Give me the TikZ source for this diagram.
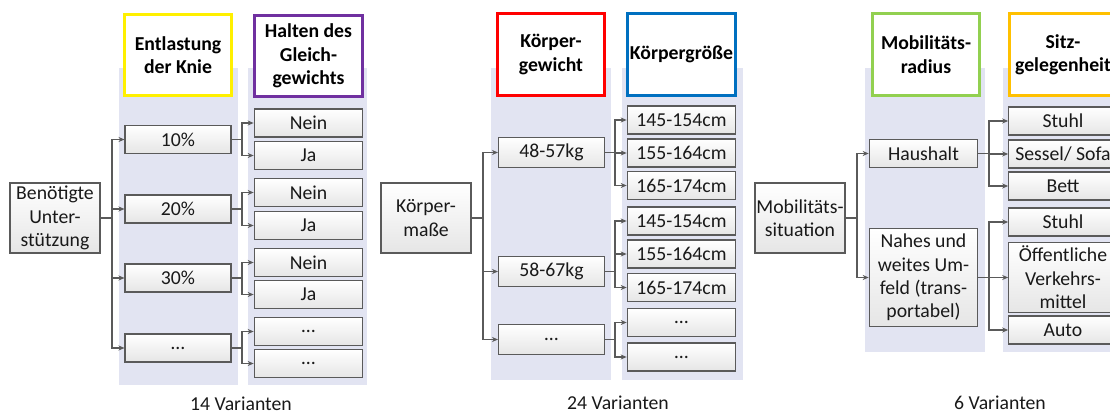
\documentclass[tikz,border=0pt]{standalone}
\usepackage{fontspec}
\setmainfont{Carlito}
\usetikzlibrary{positioning,calc,arrows.meta}

\definecolor{colshade}{RGB}{226,228,242}
\definecolor{hdryellow}{RGB}{255,240,0}
\definecolor{hdrpurple}{RGB}{112,48,160}
\definecolor{hdrred}{RGB}{255,0,0}
\definecolor{hdrblue}{RGB}{0,112,192}
\definecolor{hdrgreen}{RGB}{146,208,80}
\definecolor{hdrorange}{RGB}{255,192,0}
\definecolor{linegray}{RGB}{90,90,90}

\tikzset{
  opt/.style={draw=linegray, line width=0.8pt, top color=white, bottom color=gray!20,
    inner sep=0pt, align=center, text=black!90},
  cat/.style={opt, minimum width=79.5pt, minimum height=21pt},
  val/.style={opt, minimum width=81.5pt, minimum height=21pt},
  root/.style={opt, minimum width=67.5pt, minimum height=52.5pt},
  hdr/.style={draw=#1, line width=2.3pt, fill=white, minimum width=80.5pt,
    minimum height=61pt, inner sep=0pt, align=center, text=black,
    font=\fontsize{14.8}{17.6}\selectfont\bfseries},
  conn/.style={draw=linegray, line width=0.8pt, -{Stealth[length=4.5pt,width=3.8pt]}},
  count/.style={anchor=base, inner sep=0pt, text=black!90}
}

\begin{document}
\begin{tikzpicture}[x=0.75pt, y=-0.75pt, font=\fontsize{14.8}{17.6}\selectfont]
    \useasboundingbox (0,0) rectangle (1110,416);
    \clip (0,0) rectangle (1110,416);

    % Benoetigte Unterstuetzung
    \fill[colshade] (119,68) rectangle (238,385);
    \fill[colshade] (248,68) rectangle (367,385);
    \node[hdr=hdryellow] (entl) at (178,55) {Entlastung\\der Knie};
    \node[hdr=hdrpurple] (halt) at (308.5,56) {Halten des\\Gleich-\\gewichts};
    \node[root] (ben) at (55,218) {Benötigte\\Unter-\\stützung};
    \coordinate (ta) at (112,0);
    \coordinate (ba) at (242,0);
    \foreach \n/\y/\t in {a/139.5/10\%, b/209/20\%, c/278/30\%, d/348/\ldots} {
        \node[cat] (ent\n) at (178,\y) {\t};
        \draw[conn] (ben.east) -- (ben.east -| ta) |- (ent\n.west);
    }
    \foreach \n/\ya/\yb/\ta/\tb in {a/123/155.5/Nein/Ja, b/192.5/225.5/Nein/Ja,
                                   c/262.5/294.5/Nein/Ja, d/331.5/363.5/\ldots/\ldots} {
        \node[val] (gla\n) at (308.5,\ya) {\ta};
        \node[val] (glb\n) at (308.5,\yb) {\tb};
        \draw[conn] (ent\n.east) -- (ent\n.east -| ba) |- (gla\n.west);
        \draw[conn] (ent\n.east) -- (ent\n.east -| ba) |- (glb\n.west);
    }
    \node[count] (var1) at (241,411) {14 Varianten};

    % Koerpermasse
    \fill[colshade] (491,68) rectangle (611,380);
    \fill[colshade] (622,68) rectangle (743,380);
    \node[hdr=hdrred] (kgew) at (551,54.5) {Körper-\\gewicht};
    \node[hdr=hdrblue] (kgr) at (681.5,54.5) {Körpergröße};
    \node[root] (km) at (426,218) {Körper-\\maße};
    \coordinate (tb) at (483,0);
    \coordinate (bb) at (615,0);
    \foreach \n/\y/\t in {a/152.5/48-57kg, b/271.5/58-67kg, c/339.5/\ldots} {
        \node[cat, minimum height=23pt] (kg\n) at (551.5,\y) {\t};
        \draw[conn] (km.east) -- (km.east -| tb) |- (kg\n.west);
    }
    \foreach \n/\k/\y/\t in {a1/a/120/145-154cm, a2/a/153/155-164cm, a3/a/185.5/165-174cm,
                           b1/b/221/145-154cm, b2/b/254/155-164cm, b3/b/287.5/165-174cm,
                           c1/c/322.5/\ldots, c2/c/357/\ldots} {
        \node[val] (cm\n) at (681.5,\y) {\t};
        \draw[conn] (kg\k.east) -- (kg\k.east -| bb) |- (cm\n.west);
    }
    \node[count] (var2) at (618,410) {24 Varianten};

    % Mobilitaetssituation
    \fill[colshade] (865,68) rectangle (985,352);
    \fill[colshade] (1003,68) rectangle (1123,352);
    \node[hdr=hdrgreen] (mrad) at (926,54.5) {Mobilitäts-\\radius};
    \node[hdr=hdrorange] (sitz) at (1063,54.5) {Sitz-\\gelegenheit};
    \node[root] (mob) at (800,218) {Mobilitäts-\\situation};
    \coordinate (tc) at (857,0);
    \coordinate (bc) at (989,0);
    \node[opt, minimum width=81.5pt, minimum height=21.5pt] (haus) at (923.5,153.5) {Haushalt};
    \node[opt, minimum width=81.5pt, minimum height=74pt] (umf) at (923.5,277.5)
        {Nahes und\\weites Um-\\feld (trans-\\portabel)};
    \draw[conn] (mob.east) -- (mob.east -| tc) |- (haus.west);
    \draw[conn] (mob.east) -- (mob.east -| tc) |- (umf.west);
    \node[val] (stuhla) at (1063,121) {Stuhl};
    \node[val] (sessel) at (1063,154) {Sessel/ Sofa};
    \node[val] (bett) at (1063,186) {Bett};
    \node[val] (stuhlb) at (1063,222) {Stuhl};
    \node[val, minimum height=53pt] (oepnv) at (1063,277.5) {Öffentliche\\Verkehrs-\\mittel};
    \node[val] (auto) at (1063,330) {Auto};
    \foreach \s in {stuhla, sessel, bett}
        \draw[conn] (haus.east) -- (haus.east -| bc) |- (\s.west);
    \foreach \s in {stuhlb, oepnv, auto}
        \draw[conn] (umf.east) -- (umf.east -| bc) |- (\s.west);
    \node[count] (var3) at (1000,410) {6 Varianten};
\end{tikzpicture}
\end{document}
